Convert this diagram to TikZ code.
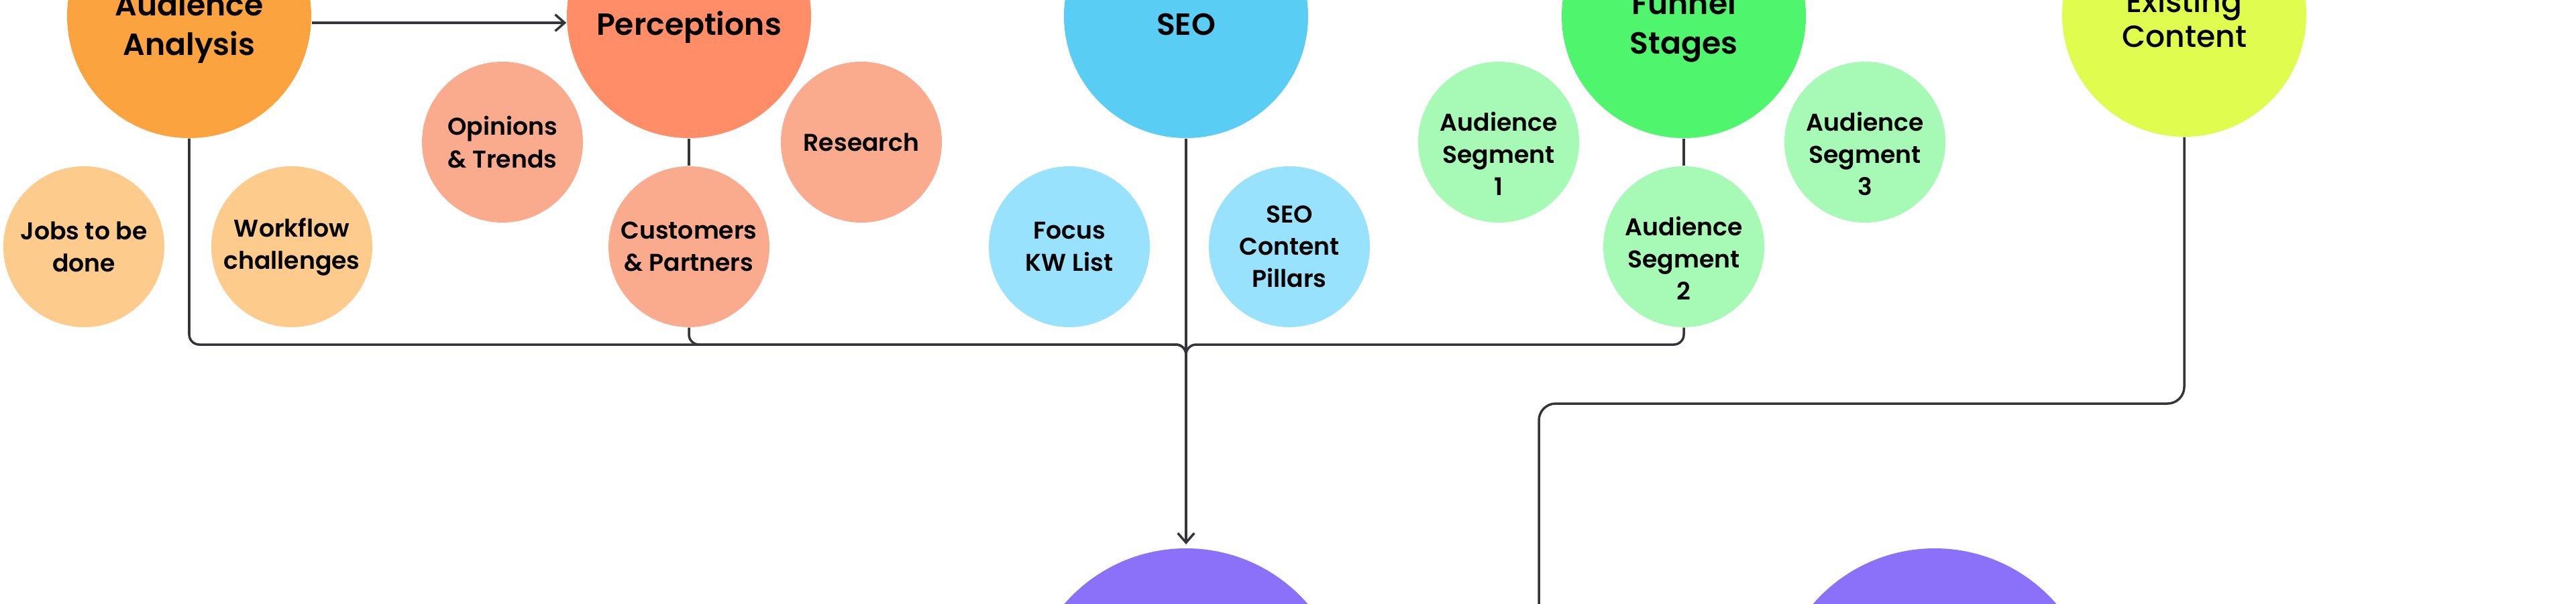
\documentclass[tikz,border=0pt]{standalone}
\usepackage{fontspec}
\setmainfont{Poppins}[BoldFont={* SemiBold}]
\newfontfamily\poppinsmedium{Poppins Medium}
\usetikzlibrary{arrows.meta,positioning}

\definecolor{aaorange}{HTML}{FBA43F}
\definecolor{aalight}{HTML}{FDCB8C}
\definecolor{percoral}{HTML}{FF8E68}
\definecolor{perclight}{HTML}{FBAB8D}
\definecolor{seoblue}{HTML}{5ACDF4}
\definecolor{seolight}{HTML}{98E2FD}
\definecolor{fungreen}{HTML}{4FF56C}
\definecolor{funlight}{HTML}{A7FAB6}
\definecolor{exlime}{HTML}{E0FC4F}
\definecolor{outpurple}{HTML}{8B70F9}
\definecolor{linegray}{HTML}{34343A}

% text set lower than the middle of its circle
\newcommand{\lowered}[2]{\raisebox{-#1}[\height][\depth]{\begin{tabular}{@{}c@{}}#2\end{tabular}}}

\tikzset{
    bigcirc/.style={circle, minimum size=3.64cm, inner sep=0pt, align=center,
        font=\fontsize{13pt}{16.8pt}\selectfont\bfseries},
    smallcirc/.style={circle, minimum size=2.4cm, inner sep=0pt, align=center,
        font=\fontsize{10.3pt}{13.7pt}\selectfont\bfseries},
    outcirc/.style={circle, minimum size=4.8cm, inner sep=0pt},
    conn/.style={draw=linegray, line width=1pt},
    tip/.style={-{Straight Barb[length=4pt,width=7pt]}},
}

\begin{document}
\begin{tikzpicture}
    \useasboundingbox (0,0) rectangle (38.4,-9);

    % top row
    \node(aa) at (2.82,-0.24) [bigcirc, fill=aaorange] {\lowered{0.17cm}{Audience\\Analysis}};
    \node(perc) at (10.27,-0.24) [bigcirc, fill=percoral] {\lowered{0.17cm}{Perceptions}};
    \node(seo) at (17.68,-0.24) [bigcirc, fill=seoblue] {\lowered{0.17cm}{SEO}};
    \node(funnel) at (25.10,-0.24) [bigcirc, fill=fungreen] {\lowered{0.15cm}{Funnel\\Stages}};
    \node(exist) at (32.56,-0.22) [bigcirc, fill=exlime, font=\fontsize{13pt}{15pt}\selectfont\poppinsmedium] {\lowered{0.12cm}{Existing\\Content}};

    % audience analysis
    \node(jobs) at (1.25,-3.68) [smallcirc, fill=aalight] {Jobs to be\\done};
    \node(workflow) at (4.35,-3.68) [smallcirc, fill=aalight] {Workflow\\challenges};

    % perceptions
    \node(opinions) at (7.49,-2.12) [smallcirc, fill=perclight] {Opinions\\\& Trends};
    \node(research) at (12.84,-2.12) [smallcirc, fill=perclight] {Research};
    \node(customers) at (10.27,-3.68) [smallcirc, fill=perclight] {Customers\\\& Partners};

    % seo
    \node(focus) at (15.94,-3.68) [smallcirc, fill=seolight] {Focus\\KW List};
    \node(pillars) at (19.22,-3.68) [smallcirc, fill=seolight] {SEO\\Content\\Pillars};

    % funnel stages
    \node(seg1) at (22.34,-2.12) [smallcirc, fill=funlight] {\lowered{0.22cm}{Audience\\Segment\\1}};
    \node(seg2) at (25.10,-3.68) [smallcirc, fill=funlight] {\lowered{0.22cm}{Audience\\Segment\\2}};
    \node(seg3) at (27.80,-2.12) [smallcirc, fill=funlight] {\lowered{0.22cm}{Audience\\Segment\\3}};

    % bottom row
    \node(out1) at (17.68,-10.58) [outcirc, fill=outpurple] {};
    \node(out2) at (28.84,-10.58) [outcirc, fill=outpurple] {};

    \coordinate(hub) at (17.68,-5.14);
    \coordinate(exbend) at (22.94,-6.02);
    \coordinate(exend) at (22.94,-9.4);

    \draw[conn, tip] ([yshift=-0.1cm]aa.east) -- ([yshift=-0.1cm]perc.west);
    \draw[conn] (perc.south) -- (customers.north);
    \draw[conn] (funnel.south) -- (seg2.north);

    \draw[conn, rounded corners=0.15cm] (aa.south) |- (hub) -- ++(0,-0.3);
    \draw[conn, rounded corners=0.15cm] (customers.south) |- (hub) -- ++(0,-0.3);
    \draw[conn, rounded corners=0.15cm] (seg2.south) |- (hub) -- ++(0,-0.3);
    \draw[conn, tip, shorten >=1.5pt] (seo.south) -- (out1.north);

    \draw[conn, rounded corners=0.25cm] (exist.south) |- (exbend) -- (exend);
\end{tikzpicture}
\end{document}
